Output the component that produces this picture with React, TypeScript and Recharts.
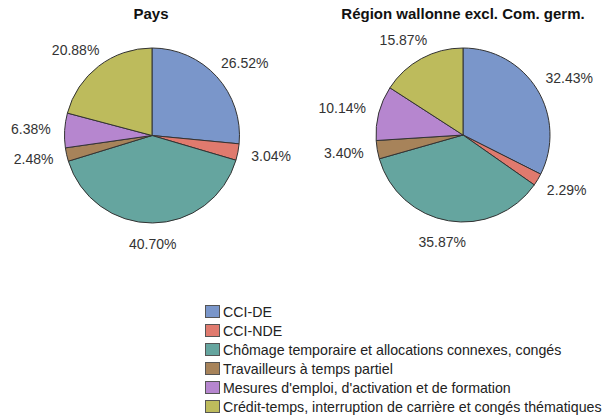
import React from 'react';
import { PieChart, Pie, Cell, Legend, Customized } from 'recharts';

const categories = [
  'CCI-DE',
  'CCI-NDE',
  'Chômage temporaire et allocations connexes, congés',
  'Travailleurs à temps partiel',
  "Mesures d'emploi, d'activation et de formation",
  'Crédit-temps, interruption de carrière et congés thématiques',
];
const paysValues = [26.52, 3.04, 40.7, 2.48, 6.38, 20.88];
const wallonieValues = [32.43, 2.29, 35.87, 3.4, 10.14, 15.87];
const titles = ['Pays', 'Région wallonne excl. Com. germ.'];
const colors = ['#7A96CA', '#E07A6E', '#65A59F', '#A7835A', '#B686CF', '#BDBB5C'];

const paysData = categories.map((name, i) => ({ name, value: paysValues[i] }));
const walData = categories.map((name, i) => ({ name, value: wallonieValues[i] }));

const FONT = '"Liberation Sans", Arial, sans-serif';
const LABEL_SIZE = 14;

function textWidth(s: string, size: number) {
  let w = 0;
  for (const ch of s) {
    if (ch === '.') w += 0.278;
    else if (ch === '%') w += 0.889;
    else w += 0.556;
  }
  return w * size;
}

const renderLabel = (props: any) => {
  const { cx, cy, midAngle, outerRadius, value } = props;
  const rad = (midAngle * Math.PI) / 180;
  const dx = Math.cos(rad);
  const dy = -Math.sin(rad);
  const R = outerRadius + 14;
  const txt = Number(value).toFixed(2) + '%';
  const w = textWidth(txt, LABEL_SIZE);
  const h = LABEL_SIZE;
  const x = cx + R * dx + (w / 2) * dx;
  const y = cy + R * dy + (h / 2) * dy;
  return (
    <text
      x={x}
      y={y}
      textAnchor="middle"
      dominantBaseline="central"
      fontFamily={FONT}
      fontSize={LABEL_SIZE}
      fill="#333"
    >
      {txt}
    </text>
  );
};

const Titles = () => (
  <g>
    <text x={151} y={13} textAnchor="middle" dominantBaseline="central" fontFamily={FONT} fontSize={15} fontWeight="bold" fill="#111">
      {titles[0]}
    </text>
    <text x={463} y={13} textAnchor="middle" dominantBaseline="central" fontFamily={FONT} fontSize={15} fontWeight="bold" fill="#111">
      {titles[1]}
    </text>
  </g>
);

const LegendContent = () => (
  <div style={{ fontFamily: FONT, fontSize: 14.2, color: '#222' }}>
    {categories.map((c, i) => (
      <div key={c} style={{ display: 'flex', alignItems: 'center', height: 19, whiteSpace: 'nowrap' }}>
        <span
          style={{
            display: 'inline-block',
            width: 13,
            height: 11,
            background: colors[i],
            border: '1px solid #555',
            marginRight: 3,
            flexShrink: 0,
          }}
        />
        <span>{c}</span>
      </div>
    ))}
  </div>
);

export default function App() {
  return (
    <div style={{ position: 'absolute', left: 0, top: 0, background: '#fff' }}>
      <PieChart width={603} height={419} margin={{ top: 0, right: 0, bottom: 0, left: 0 }}>
        <Pie
          data={paysData}
          dataKey="value"
          nameKey="name"
          cx={152}
          cy={135.5}
          outerRadius={87.5}
          startAngle={90}
          endAngle={-270}
          stroke="#333"
          strokeWidth={1}
          label={renderLabel}
          labelLine={false}
          isAnimationActive={false}
        >
          {paysData.map((d, i) => (
            <Cell key={d.name} fill={colors[i]} />
          ))}
        </Pie>
        <Pie
          data={walData}
          dataKey="value"
          nameKey="name"
          cx={463}
          cy={135}
          outerRadius={87}
          startAngle={90}
          endAngle={-270}
          stroke="#333"
          strokeWidth={1}
          label={renderLabel}
          labelLine={false}
          isAnimationActive={false}
        >
          {walData.map((d, i) => (
            <Cell key={d.name} fill={colors[i]} />
          ))}
        </Pie>
        <Customized component={Titles} />
        <Legend
          content={LegendContent}
          layout="vertical"
          wrapperStyle={{ position: 'absolute', left: 205, top: 302, width: 398 }}
        />
      </PieChart>
    </div>
  );
}
